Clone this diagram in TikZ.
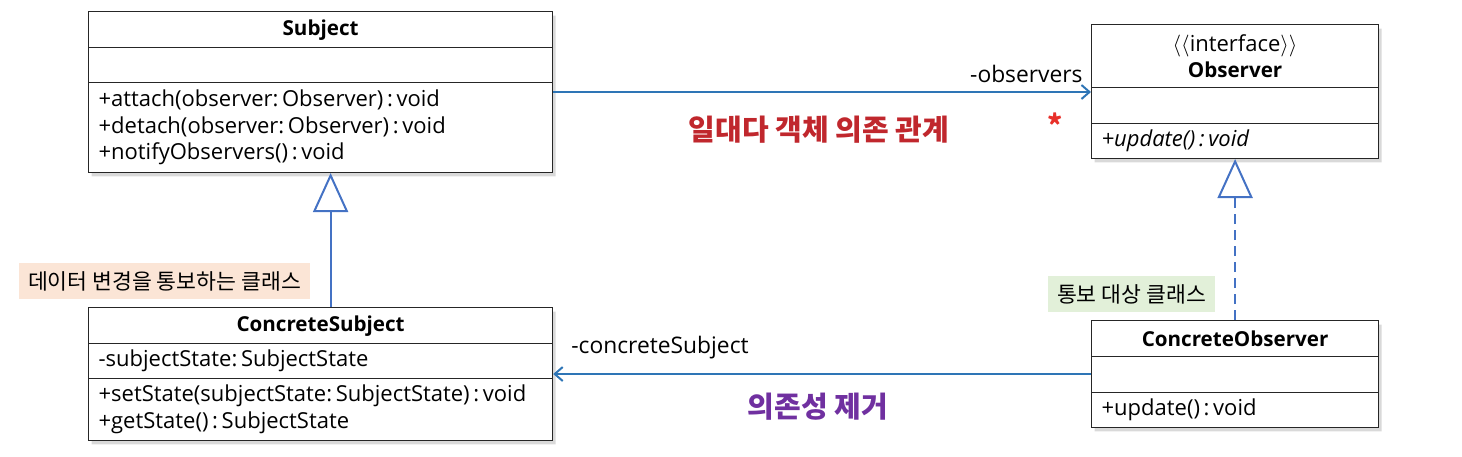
\documentclass[tikz,border=0pt]{standalone}
\usepackage{fontspec}
\setmainfont{Open Sans}
\newfontfamily\krfont{Noto Sans CJK KR}
\usepackage{tikz}
\usetikzlibrary{arrows.meta,shadows,shapes.multipart}
\definecolor{lineblue}{HTML}{2E75B6}
\definecolor{genblue}{HTML}{4472C4}
\definecolor{titlered}{HTML}{C0272D}
\definecolor{starred}{HTML}{E8302A}
\definecolor{purp}{HTML}{7030A0}
\definecolor{peach}{HTML}{FBE5D6}
\definecolor{mint}{HTML}{E2F0D9}
\newcommand{\crow}[3]{\parbox[c][#2][c]{#1}{#3}}
\newcommand{\hdfont}{\fontsize{10.3}{13}\selectfont\bfseries}
\tikzset{
  >={Straight Barb[length=4pt,width=7pt]},
  cls/.style={draw=black!85, line width=0.6pt, fill=white, rectangle split, rectangle split parts=3,
              inner xsep=5pt, inner ysep=0pt, anchor=north west, font=\fontsize{11}{13.25}\selectfont,
              drop shadow={shadow xshift=1.5pt, shadow yshift=-2pt, opacity=.3}},
  note/.style={inner sep=0pt, minimum height=18pt, font=\krfont\fontsize{10.8}{12}\selectfont},
  lbl/.style={inner sep=0pt, font=\fontsize{11.4}{13}\selectfont},
  title/.style={inner sep=0pt, font=\krfont\bfseries\fontsize{14.5}{16}\selectfont},
  assoc/.style={->, draw=lineblue, line width=1pt},
  gen/.style={-{Triangle[open, length=19.5pt, width=17.5pt]}, draw=genblue, line width=1pt},
}
\begin{document}
\begin{tikzpicture}[x=0.5pt, y=-0.5pt]
  \useasboundingbox (0,0) rectangle (1462,456);
  \node[cls] (subj) at (88,11) {\crow{222pt}{17.5pt}{\centering\hdfont Subject}
    \nodepart{second}\crow{222pt}{16.8pt}{}
    \nodepart{third}\crow{222pt}{44.3pt}{+attach(observer:\,Observer)\,:\,void\\+detach(observer:\,Observer)\,:\,void\\+notifyObservers()\,:\,void}};
  \node[cls] (obs) at (1091,24) {\crow{133.5pt}{31pt}{\centering $\langle\langle$interface$\rangle\rangle$\\\hdfont Observer}
    \nodepart{second}\crow{133.5pt}{17.3pt}{}
    \nodepart{third}\crow{133.5pt}{16.8pt}{\itshape +update()\,:\,void}};
  \node[cls] (csubj) at (88,307) {\crow{222pt}{17.5pt}{\centering\hdfont ConcreteSubject}
    \nodepart{second}\crow{222pt}{16.8pt}{-subjectState:\,SubjectState}
    \nodepart{third}\crow{222pt}{30.3pt}{+setState(subjectState:\,SubjectState)\,:\,void\\+getState()\,:\,SubjectState}};
  \node[cls] (cobs) at (1091,320) {\crow{133.5pt}{17.5pt}{\centering\hdfont ConcreteObserver}
    \nodepart{second}\crow{133.5pt}{17.3pt}{}
    \nodepart{third}\crow{133.5pt}{16.8pt}{+update()\,:\,void}};
  % notes
  \node[note, fill=peach, minimum width=145.5pt] (subjnote) at (164.5,281) {데이터 변경을 통보하는 클래스};
  \node[note, fill=mint, minimum width=83.5pt] (obsnote) at (1131.5,294) {통보 대상 클래스};
  % relations
  \draw[assoc] (subj.east) -- (subj.east -| obs.west);
  \draw[assoc] (cobs.west) -- (cobs.west -| csubj.east);
  \draw[gen] ([xshift=5pt]csubj.north) -- ([xshift=5pt]subj.south);
  \draw[gen, dash pattern=on 5pt off 3pt] (cobs.north) -- (obs.south);
  \node[lbl, anchor=east] (obsrole) at (1083,74) {-observers};
  \node[lbl, anchor=west] (subjrole) at (571,348) {-concreteSubject};
  \node[title, text=starred] (mult) at (1055,125) {*};
  \node[title, text=titlered] (onetomany) at (819,130) {일대다 객체 의존 관계};
  \node[title, text=purp] (nodep) at (818,407) {의존성 제거};
\end{tikzpicture}
\end{document}
